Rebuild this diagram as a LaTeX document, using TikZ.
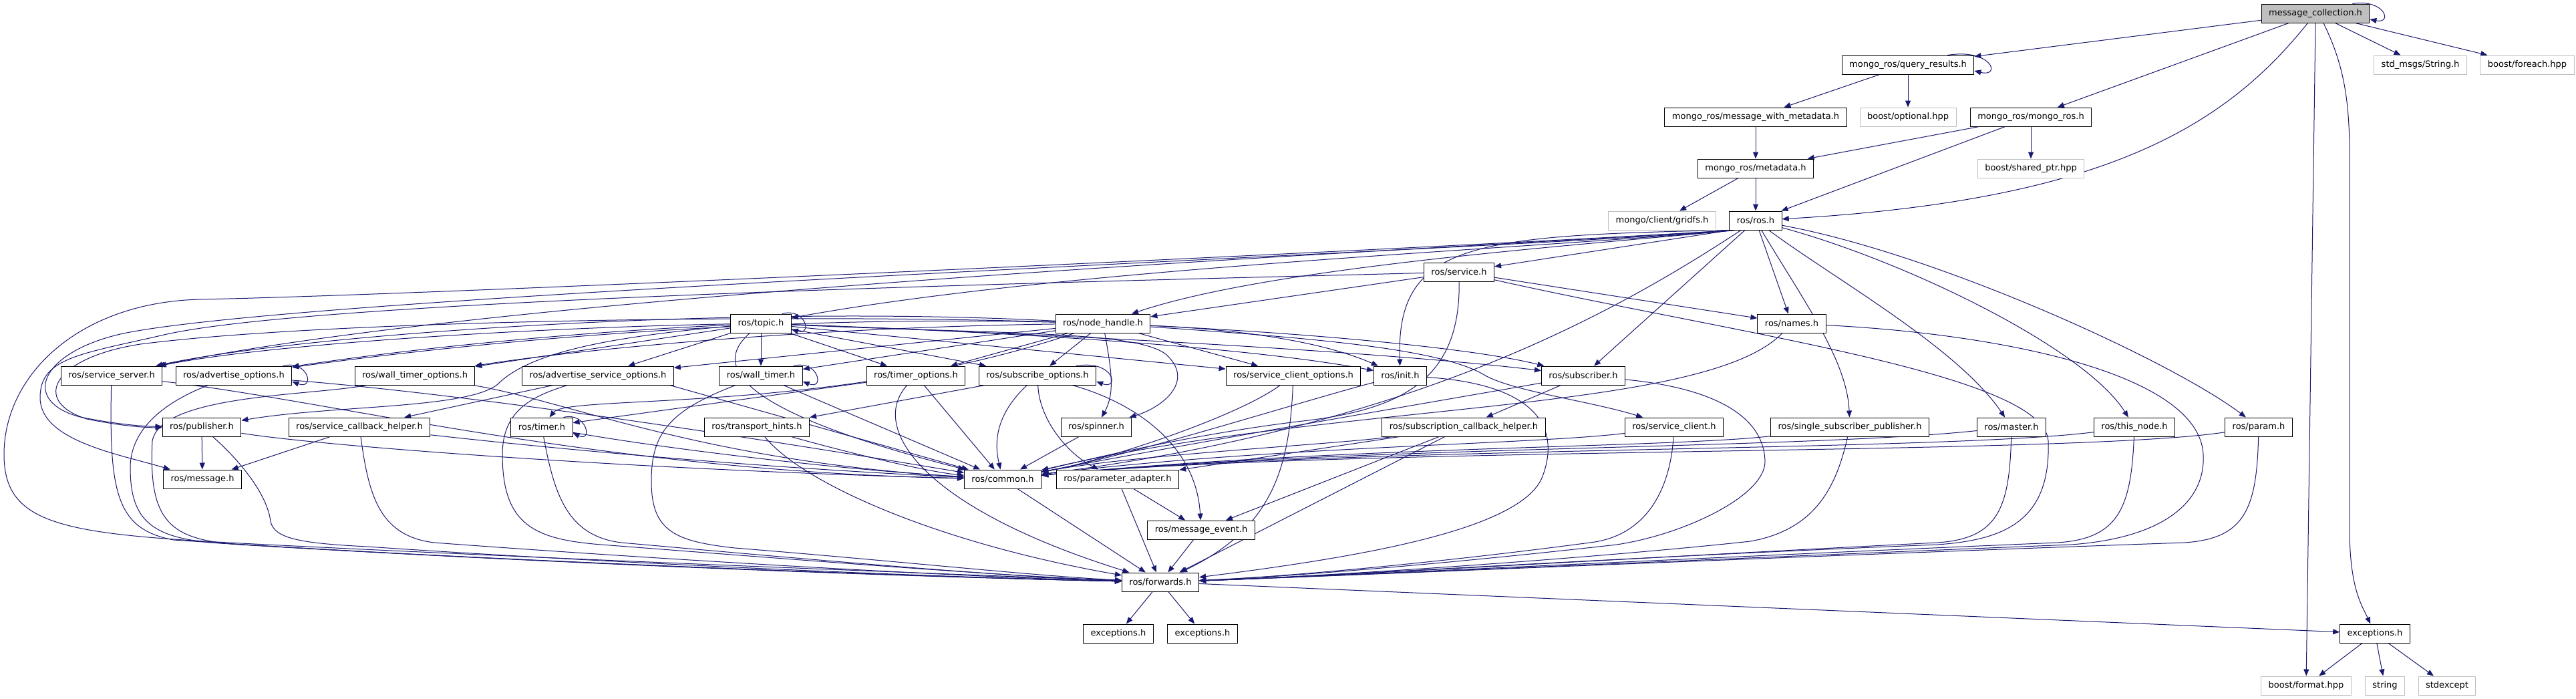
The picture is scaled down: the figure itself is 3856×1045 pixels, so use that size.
\documentclass[tikz,border=0pt]{standalone}
\usepackage{fontspec}
\setmainfont{DejaVu Sans}
\usetikzlibrary{arrows.meta,calc}
\definecolor{ec}{HTML}{191970}
\definecolor{gb}{HTML}{BFBFBF}
\pgfdeclarelayer{edgelayer}
\pgfsetlayers{edgelayer,main}
\begin{document}
\begin{tikzpicture}[x=1pt,y=-1pt,
  nd/.style={draw=black,line width=1pt,fill=white,inner xsep=11pt,inner ysep=0pt,minimum height=28pt,font=\fontsize{13}{15}\selectfont},
  ext/.style={nd,draw=gb},
  cur/.style={nd,fill=gb},
  ed/.style={draw=ec,line width=1pt,-{Triangle[length=10pt,width=8pt]}}]
\useasboundingbox (0,0) rectangle (3856,1045);
% nodes
\node[cur] (mc) at (3466,20) {message\_collection.h};
\node[nd] (qr) at (2856,97) {mongo\_ros/query\_results.h};
\node[ext] (str) at (3623,97) {std\_msgs/String.h};
\node[ext] (fe) at (3783,97) {boost/foreach.hpp};
\node[nd] (mwm) at (2628,175) {mongo\_ros/message\_with\_metadata.h};
\node[ext] (opt) at (2856,175) {boost/optional.hpp};
\node[nd] (mr) at (3040,175) {mongo\_ros/mongo\_ros.h};
\node[nd] (md) at (2628,252) {mongo\_ros/metadata.h};
\node[ext] (sp) at (3040,252) {boost/shared\_ptr.hpp};
\node[ext] (gfs) at (2488,330) {mongo/client/gridfs.h};
\node[nd] (ros) at (2628,330) {ros/ros.h};
\node[nd] (service) at (2184,407) {ros/service.h};
\node[nd] (topic) at (1139,484) {ros/topic.h};
\node[nd] (nh) at (1651,484) {ros/node\_handle.h};
\node[nd] (names) at (2682,484) {ros/names.h};
\node[nd] (ssrv) at (167,562) {ros/service\_server.h};
\node[nd] (advo) at (350,562) {ros/advertise\_options.h};
\node[nd] (wto) at (621,562) {ros/wall\_timer\_options.h};
\node[nd] (aso) at (895,562) {ros/advertise\_service\_options.h};
\node[nd] (wt) at (1139,562) {ros/wall\_timer.h};
\node[nd] (tmo) at (1371,562) {ros/timer\_options.h};
\node[nd] (so) at (1553,562) {ros/subscribe\_options.h};
\node[nd] (sco) at (1936,562) {ros/service\_client\_options.h};
\node[nd] (init) at (2096,562) {ros/init.h};
\node[nd] (sub) at (2370,562) {ros/subscriber.h};
\node[nd] (pub) at (302,639) {ros/publisher.h};
\node[nd] (sch) at (538,639) {ros/service\_callback\_helper.h};
\node[nd] (timer) at (811,639) {ros/timer.h};
\node[nd] (th) at (1133,639) {ros/transport\_hints.h};
\node[nd] (spin) at (1641,639) {ros/spinner.h};
\node[nd] (subch) at (2191,639) {ros/subscription\_callback\_helper.h};
\node[nd] (sc) at (2506,639) {ros/service\_client.h};
\node[nd] (ssp) at (2769,639) {ros/single\_subscriber\_publisher.h};
\node[nd] (master) at (3011,639) {ros/master.h};
\node[nd] (tn) at (3195,639) {ros/this\_node.h};
\node[nd] (param) at (3381,639) {ros/param.h};
\node[nd] (msg) at (303,717) {ros/message.h};
\node[nd] (common) at (1501,717) {ros/common.h};
\node[nd] (pa) at (1673,717) {ros/parameter\_adapter.h};
\node[nd] (me) at (1798,793) {ros/message\_event.h};
\node[nd] (fwd) at (1737,871) {ros/forwards.h};
\node[nd] (exa) at (1674,948) {exceptions.h};
\node[nd] (exb) at (1800,948) {exceptions.h};
\node[nd] (exc) at (3555,948) {exceptions.h};
\node[ext] (bf) at (3452,1026) {boost/format.hpp};
\node[ext] (strg) at (3570,1026) {string};
\node[ext] (stdx) at (3663,1026) {stdexcept};
\begin{pgfonlayer}{edgelayer}
\fill[white] (0,0) rectangle (3856,1045);
% top
\draw[ed] ($(mc.north east)+(-26,0)$) .. controls (3570,-2) and (3582,36) .. ($(mc.east)+(0,9)$);
\draw[ed] (mc) -- (qr);
\draw[ed] (mc) -- (mr);
\draw[ed] (mc) -- (str);
\draw[ed] (mc) -- (fe);
\draw[ed] (mc) .. controls (3330,190) and (3150,300) .. (ros);
\draw[ed] (mc.south) -- (bf);
\draw[ed] ([xshift=12pt]mc.south) .. controls (3505,90) and (3517,140) .. (3517,230) -- (3517,790) .. controls (3517,880) and (3535,905) .. (exc);
\draw[ed] ($(qr.north east)+(-40,0)$) .. controls (2982,72) and (2996,116) .. ($(qr.east)+(0,9)$);
\draw[ed] (qr) -- (mwm);
\draw[ed] (qr) -- (opt);
\draw[ed] (mwm) -- (md);
\draw[ed] (mr) -- (md);
\draw[ed] (mr) -- (ros);
\draw[ed] (mr) -- (sp);
\draw[ed] (md) -- (gfs);
\draw[ed] (md) -- (ros);
% ros
\draw[ed] ($(ros.south west)+(2,0)$) -- (service);
\draw[ed] ($(ros.south west)+(8,0)$) .. controls (2300,372) and (1600,400) .. (topic);
\draw[ed] ($(ros.south west)+(10,0)$) .. controls (2350,368) and (1900,400) .. (nh);
\draw[ed] (ros) -- (names);
\draw[ed] ($(ros.south west)+(0,0)$) .. controls (2200,352) and (2090,365) .. (init);
\draw[ed] (ros) -- (sub);
\draw[ed] (ros) .. controls (2700,450) and (2765,540) .. (ssp);
\draw[ed] (ros) .. controls (2750,420) and (2930,520) .. (master);
\draw[ed] (ros) .. controls (2850,390) and (3120,520) .. (tn);
\draw[ed] (ros) .. controls (2900,380) and (3250,540) .. (param);
\draw[ed] (ros) .. controls (2400,480) and (2100,640) .. (common);
\draw[ed] ($(ros.south west)+(4,0)$) .. controls (2300,366) and (800,430) .. (ssrv);
\draw[ed] ($(ros.south west)+(5,0)$) .. controls (2300,364) and (700,440) .. (300,448) .. controls (120,452) and (6,560) .. (6,680) .. controls (6,790) and (100,800) .. (400,815) .. controls (900,840) and (1500,862) .. (fwd);
\draw[ed] ($(ros.south west)+(6,0)$) .. controls (2300,372) and (450,440) .. (180,500) .. controls (60,528) and (30,600) .. (120,624) .. controls (170,634) and (210,638) .. (pub);
% service
\draw[ed] (service) -- (nh);
\draw[ed] (service) -- (names);
\draw[ed] (service) .. controls (2186,560) and (2110,612) .. (1950,630) .. controls (1780,650) and (1620,690) .. (common);
\draw[ed] (service) .. controls (1700,420) and (500,445) .. (250,500) .. controls (120,530) and (60,535) .. (60,595) .. controls (60,660) and (180,680) .. (msg);
\draw[ed] (service) .. controls (2600,500) and (3060,560) .. (3066,660) .. controls (3070,780) and (3000,808) .. (2900,815) .. controls (2400,835) and (2000,862) .. (fwd);
% names
\draw[ed] (names) .. controls (2550,620) and (2000,600) .. (common);
\draw[ed] (names) .. controls (3000,500) and (3292,560) .. (3298,680) .. controls (3302,750) and (3240,805) .. (3100,815) .. controls (2600,835) and (2000,862) .. (fwd);
% topic
\draw[ed] ($(topic.north east)+(-14,0)$) .. controls (1205,460) and (1217,502) .. ($(topic.east)+(0,9)$);
\draw[ed] (topic) .. controls (800,490) and (400,515) .. (ssrv);
\draw[ed] (topic) .. controls (800,500) and (560,530) .. (advo);
\draw[ed] (topic) -- (wto);
\draw[ed] (topic) -- (aso);
\draw[ed] (topic) -- (wt);
\draw[ed] (topic) -- (tmo);
\draw[ed] (topic) -- (so);
\draw[ed] (topic) -- (sco);
\draw[ed] (topic) .. controls (1600,500) and (1900,525) .. (init);
\draw[ed] (topic) .. controls (1700,505) and (2100,530) .. (sub);
\draw[ed] (topic) .. controls (1500,500) and (1700,495) .. (1745,530) .. controls (1790,570) and (1740,610) .. (spin);
\draw[ed] (topic) .. controls (1040,570) and (1200,640) .. (common);
\draw[ed] (topic) .. controls (900,505) and (790,530) .. (745,575) .. controls (700,612) and (500,606) .. (pub);
% node_handle
\draw[ed] (nh) .. controls (1100,455) and (450,500) .. (ssrv);
\draw[ed] (nh) .. controls (1100,470) and (650,520) .. (advo);
\draw[ed] (nh) .. controls (1200,490) and (850,525) .. (wto);
\draw[ed] (nh) -- (aso);
\draw[ed] (nh) -- (wt);
\draw[ed] (nh) -- (tmo);
\draw[ed] (nh) -- (so);
\draw[ed] (nh) -- (sco);
\draw[ed] (nh) .. controls (1900,495) and (2000,520) .. (init);
\draw[ed] (nh) .. controls (1950,498) and (2200,520) .. (sub);
\draw[ed] (nh) .. controls (1950,505) and (2150,520) .. (2220,560) .. controls (2260,585) and (2380,600) .. (sc);
\draw[ed] (nh) .. controls (1250,620) and (850,590) .. (timer);
\draw[ed] (nh) .. controls (1665,560) and (1668,590) .. (spin);
\draw[ed] (nh) .. controls (1200,470) and (500,478) .. (210,515) .. controls (80,535) and (45,600) .. (130,627) .. controls (180,637) and (215,640) .. (pub);
% rank 7 left
\draw[ed] (ssrv) .. controls (500,600) and (900,705) .. (common);
\draw[ed] (ssrv) .. controls (163,740) and (175,792) .. (260,808) .. controls (700,838) and (1300,862) .. (fwd);
\draw[ed] ($(advo.north east)+(-14,0)$) .. controls (462,538) and (472,584) .. ($(advo.east)+(0,9)$);
\draw[ed] (advo) .. controls (250,600) and (195,640) .. (195,700) .. controls (195,782) and (230,806) .. (330,813) .. controls (800,842) and (1400,864) .. (fwd);
\draw[ed] (advo) .. controls (700,590) and (1100,650) .. (common);
\draw[ed] (wto) .. controls (850,600) and (1050,690) .. (common);
\draw[ed] (wto) .. controls (470,592) and (240,590) .. (228,660) .. controls (222,782) and (255,808) .. (360,815) .. controls (800,842) and (1400,864) .. (fwd);
\draw[ed] (aso) -- (sch);
\draw[ed] ($(aso.south east)+(-6,0)$) -- (common);
\draw[ed] (aso) .. controls (800,592) and (752,612) .. (752,680) .. controls (752,786) and (800,807) .. (900,815) .. controls (1200,838) and (1500,862) .. (fwd);
\draw[ed] ($(wt.north east)+(-14,0)$) .. controls (1225,538) and (1235,584) .. ($(wt.east)+(0,9)$);
\draw[ed] (wt) -- (common);
\draw[ed] (wt) .. controls (1000,615) and (975,650) .. (975,720) .. controls (975,795) and (1010,810) .. (1100,820) .. controls (1350,840) and (1550,862) .. (fwd);
\draw[ed] (tmo) -- (common);
\draw[ed] (tmo) -- (timer);
\draw[ed] (tmo) .. controls (1300,640) and (1380,760) .. (fwd);
\draw[ed] ($(so.north east)+(-30,0)$) .. controls (1668,538) and (1676,584) .. ($(so.east)+(0,9)$);
\draw[ed] (so) -- (th);
\draw[ed] (so) .. controls (1485,625) and (1490,670) .. (common);
\draw[ed] (so) .. controls (1556,630) and (1600,680) .. (pa);
\draw[ed] (so) .. controls (1690,600) and (1790,660) .. (me);
% rank 7 right
\draw[ed] (sco) .. controls (1850,625) and (1650,690) .. (common);
\draw[ed] (sco) .. controls (1930,700) and (1905,790) .. (fwd);
\draw[ed] (init) .. controls (1950,600) and (1700,680) .. (common);
\draw[ed] (init) .. controls (2300,575) and (2335,640) .. (2310,710) .. controls (2285,790) and (2050,832) .. (fwd);
\draw[ed] (sub) -- (subch);
\draw[ed] (sub) .. controls (2200,592) and (1800,660) .. (common);
\draw[ed] (sub) .. controls (2560,580) and (2640,620) .. (2642,690) .. controls (2643,742) and (2520,800) .. (2420,815) .. controls (2200,840) and (1950,862) .. (fwd);
% rank 8
\draw[ed] (pub) -- (msg);
\draw[ed] (pub) .. controls (500,670) and (1000,705) .. (common);
\draw[ed] (pub) .. controls (360,690) and (400,740) .. (405,780) .. controls (410,806) and (450,813) .. (550,818) .. controls (900,842) and (1400,864) .. (fwd);
\draw[ed] (sch) -- (msg);
\draw[ed] (sch) .. controls (800,668) and (1100,698) .. (common);
\draw[ed] (sch) .. controls (552,742) and (568,802) .. (650,812) .. controls (1000,838) and (1450,864) .. (fwd);
\draw[ed] ($(timer.north east)+(-14,0)$) .. controls (878,616) and (888,662) .. ($(timer.east)+(0,9)$);
\draw[ed] (timer) .. controls (1000,672) and (1250,702) .. (common);
\draw[ed] (timer) .. controls (830,742) and (850,802) .. (930,812) .. controls (1200,836) and (1500,863) .. (fwd);
\draw[ed] (th) .. controls (1250,672) and (1380,705) .. (common);
\draw[ed] (th) .. controls (1200,722) and (1400,812) .. (fwd);
\draw[ed] (spin) -- (common);
\draw[ed] (subch) .. controls (2000,665) and (1700,680) .. (common);
\draw[ed] (subch) -- (pa);
\draw[ed] (subch) -- (me);
\draw[ed] (subch) -- (fwd);
\draw[ed] (sc) .. controls (2300,665) and (1900,668) .. (common);
\draw[ed] (sc) .. controls (2500,732) and (2465,802) .. (2380,812) .. controls (2200,836) and (1950,862) .. (fwd);
\draw[ed] (ssp) .. controls (2500,670) and (2000,668) .. (common);
\draw[ed] (ssp) .. controls (2750,722) and (2722,792) .. (2620,810) .. controls (2400,834) and (2000,862) .. (fwd);
\draw[ed] (master) .. controls (2700,672) and (2000,668) .. (common);
\draw[ed] (master) .. controls (3008,762) and (2990,806) .. (2900,812) .. controls (2500,832) and (2000,862) .. (fwd);
\draw[ed] (tn) .. controls (2900,676) and (2000,668) .. (common);
\draw[ed] (tn) .. controls (3190,762) and (3170,806) .. (3080,812) .. controls (2600,832) and (2000,862) .. (fwd);
\draw[ed] (param) .. controls (3100,682) and (2000,668) .. (common);
\draw[ed] (param) .. controls (3378,762) and (3360,806) .. (3270,812) .. controls (2700,832) and (2000,862) .. (fwd);
% bottom
\draw[ed] (common) -- (fwd);
\draw[ed] (pa) -- (me);
\draw[ed] (pa) -- (fwd);
\draw[ed] (me) -- (fwd);
\draw[ed] (fwd) -- (exa);
\draw[ed] (fwd) -- (exb);
\draw[ed] (fwd) -- (exc);
\draw[ed] (exc) -- (bf);
\draw[ed] (exc) -- (strg);
\draw[ed] (exc) -- (stdx);
\end{pgfonlayer}
\end{tikzpicture}
\end{document}
